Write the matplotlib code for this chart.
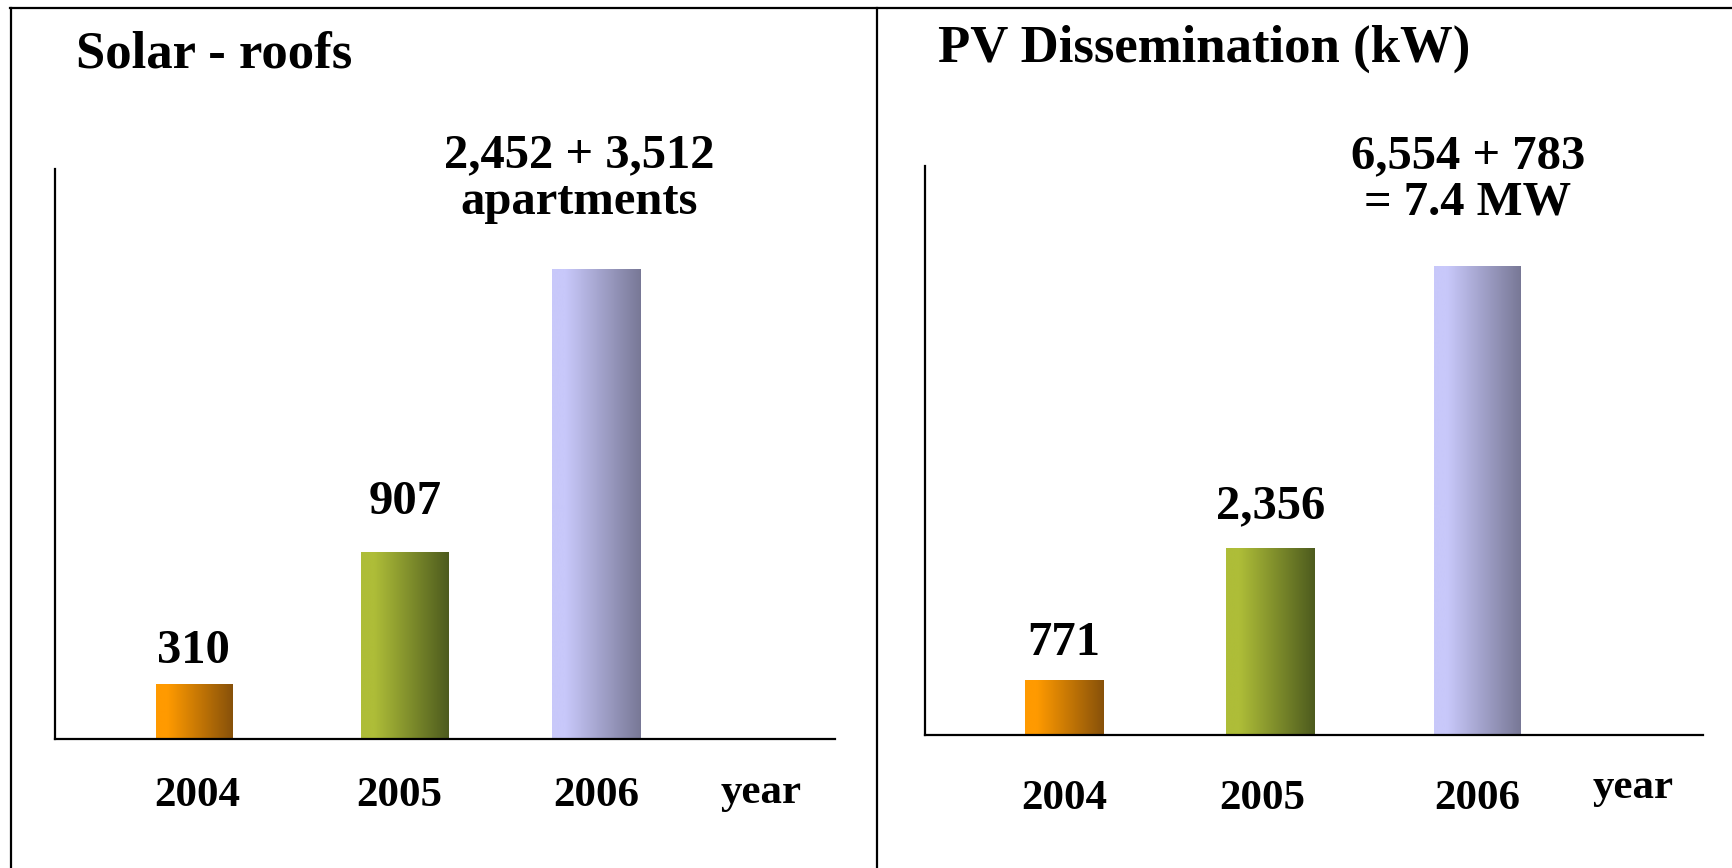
import matplotlib.pyplot as plt
import numpy as np
from matplotlib.colors import LinearSegmentedColormap

# data (bar heights as drawn, in % of the axis height)
years = ["2004", "2005", "2006"]
roofs_height = [9.6, 32.7, 82.4]
roofs_labels = ["310", "907", "2,452 + 3,512\napartments"]
pv_height = [9.6, 32.8, 82.4]
pv_labels = ["771", "2,356", "6,554 + 783\n= 7.4 MW"]

# gradient colours (light left -> dark right)
bar_colors = [("#FF9A00", "#87510A"), ("#AEBD38", "#4D5B1E"), ("#C8C8FA", "#787896")]

W, H = 1733, 868
plt.rcParams["font.family"] = ["Liberation Serif", "DejaVu Serif"]
plt.rcParams["font.weight"] = "bold"

fig = plt.figure(figsize=(W / 100, H / 100), dpi=100)


def fx(x):
    return x / W


def fy(y):
    return 1 - y / H


# panel frame lines (top, left, divider)
fig.add_artist(plt.Line2D([fx(10), 1], [fy(8), fy(8)], color="black", lw=1.6))
fig.add_artist(plt.Line2D([fx(11), fx(11)], [fy(8), 0], color="black", lw=1.6))
fig.add_artist(plt.Line2D([fx(877), fx(877)], [fy(8), 0], color="black", lw=1.6))


def panel(rect, heights, labels, xpos, ticks, xlim, widths, offsets, top_shift, pad):
    ax = fig.add_axes(rect)
    bars = ax.bar(xpos, heights, width=widths, color="none", edgecolor="none")
    grad = np.linspace(0, 1, 256).reshape(1, -1)
    for b, (c1, c2) in zip(bars, bar_colors):
        cmap = LinearSegmentedColormap.from_list("g", [(0, c1), (0.15, c1), (1, c2)])
        im = ax.imshow(grad, cmap=cmap, aspect="auto", zorder=2,
                       extent=[b.get_x(), b.get_x() + b.get_width(), 0, b.get_height()])
        im.set_clip_path(b)
    for i in range(2):
        ax.annotate(labels[i], (xpos[i], heights[i]), xytext=(0, offsets[i]),
                    textcoords="offset points", ha="center", va="bottom",
                    fontsize=35, fontweight="bold")
    ax.annotate(labels[2], (xpos[2], heights[2]), xytext=top_shift,
                textcoords="offset points", ha="center", va="center",
                fontsize=35, fontweight="bold", linespacing=1.08)
    ax.set_xlim(*xlim)
    ax.set_ylim(0, 100)
    ax.set_xticks(ticks, years, fontsize=31, fontweight="bold")
    ax.tick_params(axis="x", length=0, pad=pad)
    ax.set_yticks([])
    for s in ["top", "right"]:
        ax.spines[s].set_visible(False)
    for s in ["left", "bottom"]:
        ax.spines[s].set_linewidth(1.6)
    ax.patch.set_alpha(0)
    return ax


panel([fx(55), fy(738.5), fx(780), 569.5 / H], roofs_height, roofs_labels,
      [0, 1.05, 2], [0.016, 1.02, 2.0],
      (-0.69, 3.19), [0.38, 0.435, 0.44], [8, 20], (-12, 65), 28)
panel([fx(925), fy(734.5), fx(778), 568.5 / H], pv_height, pv_labels,
      [0, 1, 2], [0.0, 0.957, 2.0],
      (-0.672, 3.09), [0.38, 0.43, 0.42], [11, 14.5], (-7, 62.5), 33)

fig.text(fx(76), fy(67), "Solar - roofs", fontsize=38, fontweight="bold", va="baseline")
fig.text(fx(938), fy(62), "PV Dissemination (kW)", fontsize=38, fontweight="bold", va="baseline")
fig.text(fx(761), fy(803), "year", fontsize=31, fontweight="bold", ha="center", va="baseline")
fig.text(fx(1633), fy(798), "year", fontsize=31, fontweight="bold", ha="center", va="baseline")

fig.savefig("out.png", dpi=100)
